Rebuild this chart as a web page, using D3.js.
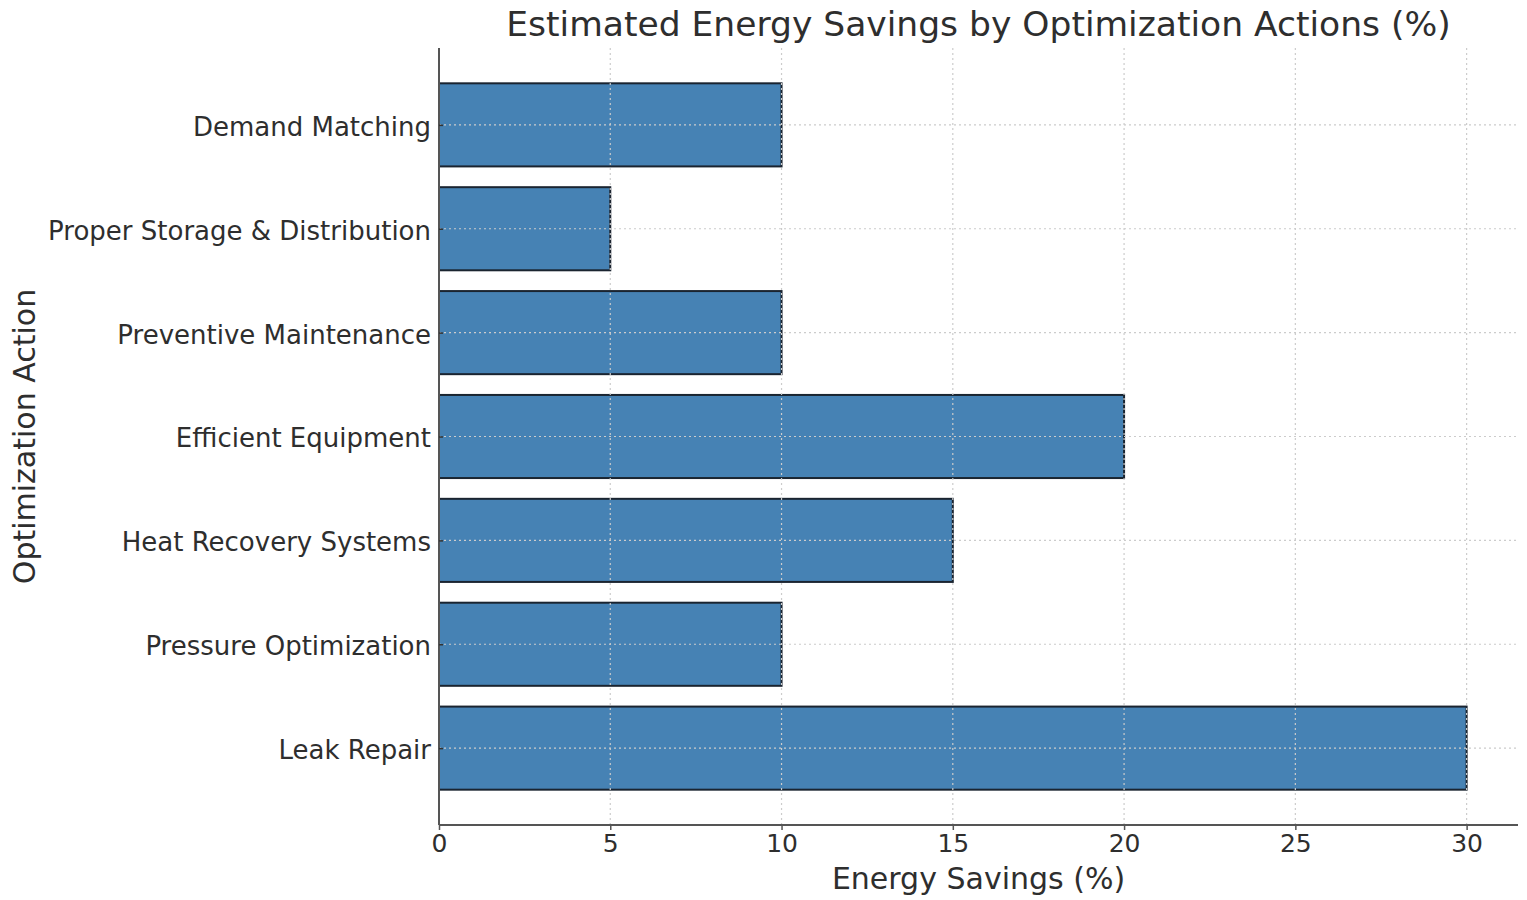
<!DOCTYPE html>
<html>
<head>
<meta charset="utf-8">
<script src="https://cdn.jsdelivr.net/npm/d3@7"></script>
<style>
  html, body { margin: 0; padding: 0; background: #ffffff; }
  svg { display: block; font-family: "DejaVu Sans", sans-serif; }
</style>
</head>
<body>
<svg id="chart" width="1527" height="900"></svg>
<script>
// Optimization actions, listed bottom to top
const actions = [
  "Leak Repair",
  "Pressure Optimization",
  "Heat Recovery Systems",
  "Efficient Equipment",
  "Preventive Maintenance",
  "Proper Storage & Distribution",
  "Demand Matching"
];
// Estimated energy savings (%) per action
const savings = [30, 10, 15, 20, 10, 5, 10];
const xTicks = [0, 5, 10, 15, 20, 25, 30];

const titleText = "Estimated Energy Savings by Optimization Actions (%)";
const xLabelText = "Energy Savings (%)";
const yLabelText = "Optimization Action";

const svg = d3.select("#chart");
const plot = { left: 439, right: 1518, top: 48, bottom: 825 };
const textColor = "#2e2e2e";

const x = d3.scaleLinear().domain([0, 31.5]).range([plot.left, plot.right]);
const y = d3.scaleLinear().domain([-0.74, actions.length - 1 + 0.74]).range([plot.bottom, plot.top]);
const barHalf = 0.4;

// bars
svg.append("g").selectAll("rect")
  .data(savings)
  .join("rect")
  .attr("x", x(0))
  .attr("y", (d, i) => y(i + barHalf))
  .attr("width", d => x(d) - x(0))
  .attr("height", (d, i) => y(i - barHalf) - y(i + barHalf))
  .attr("fill", "#4682b4")
  .attr("stroke", "#1a2430")
  .attr("stroke-width", 2);

// dotted grid drawn over the bars
const grid = svg.append("g")
  .attr("stroke", "#cccccc")
  .attr("stroke-width", 1.2)
  .attr("stroke-dasharray", "2,3");
grid.selectAll("line.gx")
  .data(xTicks)
  .join("line")
  .attr("class", "gx")
  .attr("x1", d => x(d)).attr("x2", d => x(d))
  .attr("y1", plot.top).attr("y2", plot.bottom);
grid.selectAll("line.gy")
  .data(actions)
  .join("line")
  .attr("class", "gy")
  .attr("x1", plot.left).attr("x2", plot.right)
  .attr("y1", (d, i) => y(i)).attr("y2", (d, i) => y(i));

// axes
const xAxis = d3.axisBottom(x).tickValues(xTicks).tickSize(5).tickPadding(4).tickFormat(d3.format("d"));
const gx = svg.append("g")
  .attr("transform", `translate(0,${plot.bottom})`)
  .call(xAxis);
gx.select(".domain").attr("stroke", "#555555").attr("stroke-width", 2).attr("d", `M${plot.left},0H${plot.right}`);
gx.selectAll(".tick line").attr("stroke", "#555555").attr("stroke-width", 1.5);
gx.selectAll(".tick text")
  .attr("fill", textColor)
  .style("font-size", "25px")
  .style("font-family", "DejaVu Sans");

const yAxis = d3.axisLeft(y)
  .tickValues(d3.range(actions.length))
  .tickFormat(i => actions[i])
  .tickSize(-4)
  .tickPadding(8);
const gy = svg.append("g")
  .attr("transform", `translate(${plot.left},0)`)
  .call(yAxis);
gy.select(".domain").attr("stroke", "#555555").attr("stroke-width", 2).attr("d", `M0,${plot.top}V${plot.bottom}`);
gy.selectAll(".tick line").attr("stroke", "#333333").attr("stroke-width", 1.5);
gy.selectAll(".tick text")
  .attr("fill", textColor)
  .attr("x", -8)
  .attr("dy", "0.4em")
  .style("font-size", "26px")
  .style("font-family", "DejaVu Sans");

// title and axis labels
svg.append("text")
  .attr("x", (plot.left + plot.right) / 2)
  .attr("y", 36)
  .attr("text-anchor", "middle")
  .attr("fill", textColor)
  .style("font-size", "34.5px")
  .text(titleText);

svg.append("text")
  .attr("x", (plot.left + plot.right) / 2)
  .attr("y", 889)
  .attr("text-anchor", "middle")
  .attr("fill", textColor)
  .style("font-size", "30px")
  .text(xLabelText);

svg.append("text")
  .attr("transform", `translate(35,${(plot.top + plot.bottom) / 2}) rotate(-90)`)
  .attr("text-anchor", "middle")
  .attr("fill", textColor)
  .style("font-size", "30px")
  .text(yLabelText);
</script>
</body>
</html>
